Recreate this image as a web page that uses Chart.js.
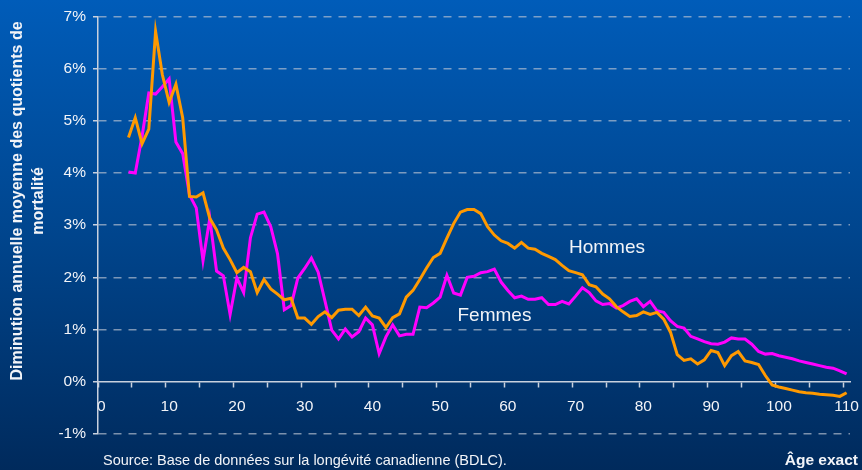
<!DOCTYPE html>
<html>
<head>
<meta charset="utf-8">
<script src="https://cdn.jsdelivr.net/npm/chart.js@4.4.0/dist/chart.umd.min.js"></script>
<style>
  html, body { margin: 0; padding: 0; }
  body {
    width: 862px; height: 470px; overflow: hidden;
    background: linear-gradient(to bottom, #005cb9 0%, #00458d 50%, #002a5c 100%);
  }
  #chartBox { position: relative; width: 862px; height: 470px; }
</style>
</head>
<body>
<div id="chartBox"><canvas id="mortalityChart" width="862" height="470"></canvas></div>
<script>
'use strict';

// categories: exact age 0..110, the series start at age 4
var ageLabels = Array.from({ length: 111 }, function (v, i) { return String(i); });
var firstAge = 4;

// average annual decline of mortality rates (%), ages 4..110
var hommes = [
  4.68, 5.06, 4.56, 4.84, 6.71, 5.88, 5.35, 5.70, 5.06, 3.55,
  3.54, 3.62, 3.13, 2.91, 2.56, 2.34, 2.09, 2.19, 2.11, 1.71,
  1.96, 1.78, 1.68, 1.57, 1.60, 1.22, 1.22, 1.10, 1.25, 1.34,
  1.23, 1.37, 1.39, 1.39, 1.27, 1.43, 1.26, 1.22, 1.04, 1.23,
  1.30, 1.62, 1.75, 1.96, 2.18, 2.38, 2.46, 2.75, 3.03, 3.25,
  3.30, 3.30, 3.22, 2.97, 2.81, 2.70, 2.65, 2.56, 2.67, 2.56,
  2.54, 2.46, 2.40, 2.34, 2.23, 2.13, 2.09, 2.05, 1.86, 1.82,
  1.68, 1.59, 1.44, 1.34, 1.25, 1.27, 1.34, 1.29, 1.33, 1.20,
  0.95, 0.52, 0.41, 0.44, 0.34, 0.42, 0.60, 0.56, 0.31, 0.50,
  0.58, 0.40, 0.37, 0.33, 0.12, -0.06, -0.10, -0.13, -0.16, -0.19,
  -0.21, -0.22, -0.24, -0.25, -0.26, -0.28, -0.21
];
var femmes = [
  4.02, 4.00, 4.70, 5.53, 5.51, 5.65, 5.80, 4.59, 4.37, 3.58,
  3.33, 2.32, 3.13, 2.12, 2.03, 1.29, 1.99, 1.71, 2.76, 3.21,
  3.25, 2.97, 2.45, 1.38, 1.46, 1.99, 2.17, 2.37, 2.10, 1.55,
  0.99, 0.82, 1.01, 0.86, 0.96, 1.22, 1.09, 0.54, 0.86, 1.09,
  0.88, 0.91, 0.91, 1.43, 1.42, 1.51, 1.62, 2.04, 1.70, 1.66,
  2.00, 2.02, 2.09, 2.11, 2.16, 1.91, 1.75, 1.61, 1.64, 1.58,
  1.58, 1.61, 1.48, 1.48, 1.54, 1.49, 1.64, 1.80, 1.71, 1.55,
  1.48, 1.50, 1.41, 1.46, 1.54, 1.59, 1.44, 1.54, 1.36, 1.33,
  1.17, 1.06, 1.03, 0.87, 0.82, 0.77, 0.73, 0.72, 0.76, 0.84,
  0.82, 0.82, 0.72, 0.58, 0.53, 0.54, 0.50, 0.47, 0.44, 0.40,
  0.37, 0.34, 0.31, 0.28, 0.26, 0.21, 0.15
];

var yMin = -1;
var yMax = 7;

var fontFamily = '"Liberation Sans", Arial, sans-serif';
var textColor = '#f2f4f8';
var axisColor = '#c9d1de';
var gridColor = 'rgba(190, 198, 212, 0.65)';

function toAgeSeries(values) {
  return ageLabels.map(function (label, i) {
    return i < firstAge ? null : values[i - firstAge];
  });
}

// texts that Chart.js does not place where the original has them
var extraTexts = {
  id: 'extraTexts',
  afterDraw: function (chart) {
    var ctx = chart.ctx;
    ctx.save();
    ctx.fillStyle = textColor;

    // y axis title, two rotated lines
    ctx.font = 'bold 16px ' + fontFamily;
    ctx.textAlign = 'center';
    ctx.textBaseline = 'alphabetic';
    ctx.save();
    ctx.translate(21.5, 201);
    ctx.rotate(-Math.PI / 2);
    ctx.fillText('Diminution annuelle moyenne des quotients de', 0, 0);
    ctx.restore();
    ctx.save();
    ctx.translate(43, 201);
    ctx.rotate(-Math.PI / 2);
    ctx.fillText('mortalité', 0, 0);
    ctx.restore();

    // series names
    ctx.textAlign = 'left';
    ctx.font = '19px ' + fontFamily;
    ctx.fillText('Hommes', 569, 253);
    ctx.fillText('Femmes', 457.5, 321);

    // source and x axis title
    ctx.font = '14.5px ' + fontFamily;
    ctx.fillText('Source: Base de données sur la longévité canadienne (BDLC).', 103, 465);
    ctx.textAlign = 'right';
    ctx.font = 'bold 15.5px ' + fontFamily;
    ctx.fillText('Âge exact', 858, 465);
    ctx.restore();
  }
};

var ctx = document.getElementById('mortalityChart').getContext('2d');
var mortalityChart = new Chart(ctx, {
  type: 'line',
  data: {
    labels: ageLabels,
    datasets: [
      {
        label: 'Hommes',
        data: toAgeSeries(hommes),
        borderColor: '#ff9900',
        borderWidth: 3,
        pointRadius: 0,
        tension: 0,
        fill: false
      },
      {
        label: 'Femmes',
        data: toAgeSeries(femmes),
        borderColor: '#ff00ff',
        borderWidth: 3,
        pointRadius: 0,
        tension: 0,
        fill: false
      }
    ]
  },
  options: {
    responsive: false,
    animation: false,
    devicePixelRatio: 1,
    layout: { padding: { left: 0, right: 12, top: 13, bottom: 36 } },
    plugins: {
      legend: { display: false },
      tooltip: { enabled: false }
    },
    scales: {
      x: {
        type: 'category',
        position: { y: 0 },
        offset: true,
        grid: {
          offset: true,
          drawOnChartArea: false,
          drawTicks: true,
          tickLength: 5,
          tickWidth: 1.5,
          tickColor: function (c) {
            return (c.index !== undefined && c.index % 5 === 0) ? axisColor : 'rgba(0,0,0,0)';
          }
        },
        border: { display: true, color: axisColor, width: 1.5 },
        ticks: {
          autoSkip: false,
          maxRotation: 0,
          minRotation: 0,
          padding: 11,
          color: textColor,
          font: { family: fontFamily, size: 15.5 },
          callback: function (value, index) {
            return index % 10 === 0 ? ageLabels[index] : '';
          }
        },
        afterFit: function (scale) {
          scale.paddingLeft = 0;
          scale.paddingRight = 0;
        }
      },
      y: {
        min: yMin,
        max: yMax,
        grid: {
          color: function (c) {
            return c.tick && c.tick.value === 0 ? 'rgba(0,0,0,0)' : gridColor;
          },
          lineWidth: 1.5,
          drawTicks: true,
          tickLength: 5,
          tickWidth: 1.5,
          tickColor: axisColor
        },
        border: { display: true, color: axisColor, width: 1.5, dash: [8, 7] },
        ticks: {
          stepSize: 1,
          padding: 7,
          color: textColor,
          font: { family: fontFamily, size: 15.5 },
          callback: function (value) { return value + '%'; }
        },
        afterFit: function (scale) {
          scale.width = 98;
        }
      }
    }
  },
  plugins: [extraTexts]
});
</script>
</body>
</html>
